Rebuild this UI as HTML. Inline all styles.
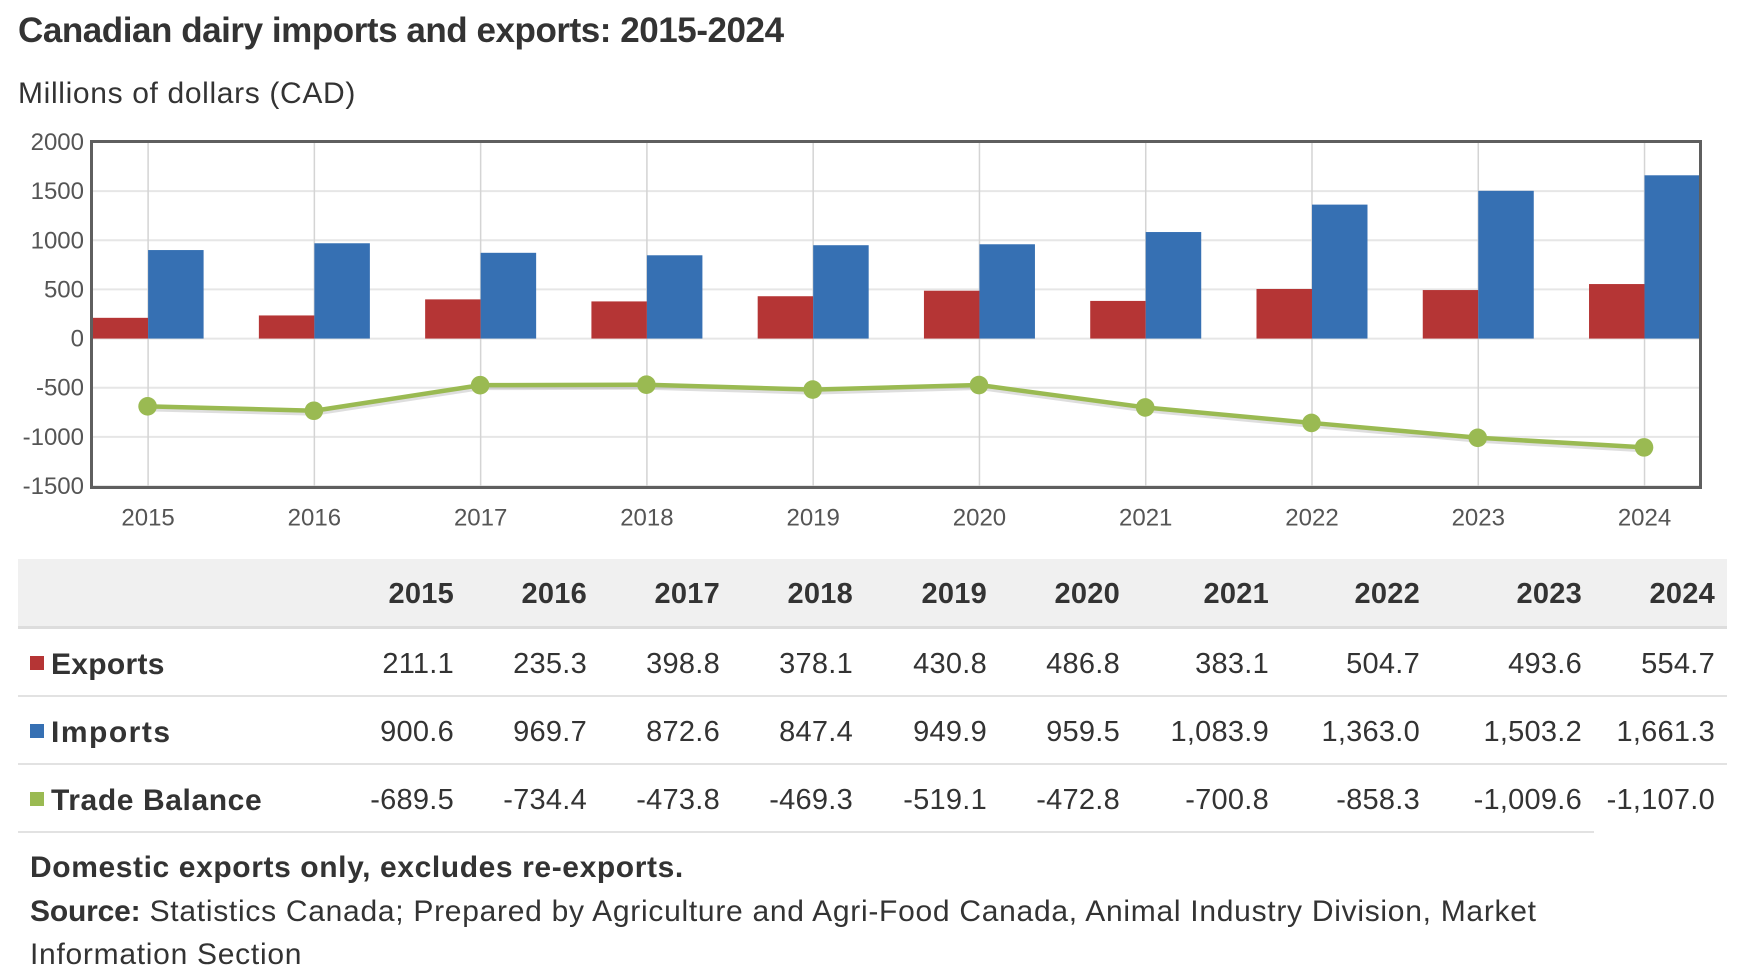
<!DOCTYPE html>
<html lang="en">
<head>
<meta charset="utf-8">
<title>Canadian dairy imports and exports: 2015-2024</title>
<style>
html,body{margin:0;padding:0;background:#fff;}
body{width:1752px;height:972px;overflow:hidden;position:relative;font-family:"Liberation Sans",Arial,sans-serif;color:#333;}
#chart-title{position:absolute;left:18px;top:10px;margin:0;font-size:35px;line-height:42px;font-weight:bold;color:#333;white-space:nowrap;letter-spacing:-.45px;}
#chart-subtitle{position:absolute;left:18px;top:76px;font-size:30px;line-height:36px;color:#333;white-space:nowrap;letter-spacing:.65px;}
#chart{position:absolute;left:0;top:0;}
#data-table{position:absolute;left:18px;top:559px;width:1709px;border-collapse:collapse;table-layout:fixed;font-size:29px;color:#333;}
#data-table th,#data-table td{padding:0 12px 0 0;text-align:right;white-space:nowrap;font-weight:normal;letter-spacing:.25px;}
#data-table thead th{background:#f0f0f0;border-bottom:3px solid #ddd;font-weight:bold;box-sizing:content-box;padding-top:4px;height:63px;}
#data-table tbody td,#data-table tbody th{border-bottom:2px solid #e2e2e2;height:61px;padding-top:5px;box-sizing:content-box;}
#data-table tbody th{text-align:left;font-weight:bold;font-size:30px;padding-left:12px;padding-right:0;letter-spacing:.6px;}
#data-table tbody tr:last-child td:last-child{border-bottom-color:transparent;}
.swatch{display:inline-block;width:14px;height:14px;margin-right:7px;vertical-align:4px;}
#notes{position:absolute;left:30px;top:846px;width:1600px;font-size:30px;line-height:43.5px;color:#333;letter-spacing:.72px;}
#notes b{font-weight:bold;}
</style>
</head>
<body>
<h1 id="chart-title">Canadian dairy imports and exports: 2015-2024</h1>
<div id="chart-subtitle">Millions of dollars (CAD)</div>
<svg id="chart" width="1752" height="560" viewBox="0 0 1752 560" xmlns="http://www.w3.org/2000/svg"></svg>

<table id="data-table">
<colgroup><col style="width:314px"><col style="width:134px"><col style="width:133px"><col style="width:133px"><col style="width:133px"><col style="width:134px"><col style="width:133px"><col style="width:149px"><col style="width:151px"><col style="width:162px"><col style="width:133px"></colgroup>
<thead><tr><th></th><th>2015</th><th>2016</th><th>2017</th><th>2018</th><th>2019</th><th>2020</th><th>2021</th><th>2022</th><th>2023</th><th>2024</th></tr></thead>
<tbody>
<tr><th style="letter-spacing:.3px"><span class="swatch" style="background:#b53535"></span>Exports</th><td>211.1</td><td>235.3</td><td>398.8</td><td>378.1</td><td>430.8</td><td>486.8</td><td>383.1</td><td>504.7</td><td>493.6</td><td>554.7</td></tr>
<tr><th style="letter-spacing:1.5px"><span class="swatch" style="background:#3670b3"></span>Imports</th><td>900.6</td><td>969.7</td><td>872.6</td><td>847.4</td><td>949.9</td><td>959.5</td><td>1,083.9</td><td>1,363.0</td><td>1,503.2</td><td>1,661.3</td></tr>
<tr><th><span class="swatch" style="background:#9aba52"></span>Trade Balance</th><td>-689.5</td><td>-734.4</td><td>-473.8</td><td>-469.3</td><td>-519.1</td><td>-472.8</td><td>-700.8</td><td>-858.3</td><td>-1,009.6</td><td>-1,107.0</td></tr>
</tbody>
</table>

<div id="notes">
<div><b style="letter-spacing:.6px">Domestic exports only, excludes re-exports.</b></div>
<div><b style="letter-spacing:-.17px">Source:</b> Statistics Canada; Prepared by Agriculture and Agri-Food Canada, Animal Industry Division, Market<br>Information Section</div>
</div>

<script>
var categories = ["2015","2016","2017","2018","2019","2020","2021","2022","2023","2024"];
var exportsValues = [211.1,235.3,398.8,378.1,430.8,486.8,383.1,504.7,493.6,554.7];
var importsValues = [900.6,969.7,872.6,847.4,949.9,959.5,1083.9,1363.0,1503.2,1661.3];
var balanceValues = [-689.5,-734.4,-473.8,-469.3,-519.1,-472.8,-700.8,-858.3,-1009.6,-1107.0];
var yTickValues = [2000,1500,1000,500,0,-500,-1000,-1500];

var NS = "http://www.w3.org/2000/svg";
var svg = document.getElementById("chart");
var frameBox = {left:91.5,right:1700.5,top:141.5,bottom:487.5};
var plot = {left:91.5,right:1700.5,top:142,bottom:486};
var yMax = 2000, yMin = -1500;
var firstCenter = 148.1, band = 166.27, barWidth = 55.5;

function xPos(i){ return firstCenter + band * i; }
function yPos(v){ return plot.top + (yMax - v) / (yMax - yMin) * (plot.bottom - plot.top); }
function make(tag, attrs, parent){
  var el = document.createElementNS(NS, tag);
  for (var k in attrs) el.setAttribute(k, attrs[k]);
  (parent || svg).appendChild(el);
  return el;
}

yTickValues.forEach(function(v){
  var g = make("line",{x1:plot.left,x2:plot.right,y1:yPos(v),y2:yPos(v),stroke:"#e6e6e6","stroke-width":2});
  
  
  var t = make("text",{x:84,y:yPos(v)+8,"text-anchor":"end","font-size":24,fill:"#555","font-family":"Liberation Sans, sans-serif"});
  t.textContent = v;
  
  
});

categories.forEach(function(c,i){
  var g = make("line",{x1:xPos(i),x2:xPos(i),y1:frameBox.top,y2:frameBox.bottom,stroke:"#d4d4d4","stroke-width":1.5});
  
  
  var t = make("text",{x:xPos(i),y:525.5,"text-anchor":"middle","font-size":24,fill:"#555","font-family":"Liberation Sans, sans-serif"});
  t.textContent = c;
  
  
});

categories.forEach(function(c,i){
  var r = make("rect",{x:xPos(i)-barWidth,y:yPos(exportsValues[i]),width:barWidth,height:yPos(0)-yPos(exportsValues[i]),fill:"#b53535"});
  
  
  var b = make("rect",{x:xPos(i),y:yPos(importsValues[i]),width:barWidth,height:yPos(0)-yPos(importsValues[i]),fill:"#3670b3"});
  
  
});

var pts = balanceValues.map(function(v,i){ return xPos(i)+","+yPos(v); }).join(" ");
var shadowPts = balanceValues.map(function(v,i){ return xPos(i)+","+(yPos(v)+2.5); }).join(" ");
var shadow = make("polyline",{points:shadowPts,fill:"none",stroke:"rgba(0,0,0,.13)","stroke-width":5});


var line = make("polyline",{points:pts,fill:"none",stroke:"#9aba52","stroke-width":4.5,"stroke-linejoin":"round"});


balanceValues.forEach(function(v,i){
  var m = make("circle",{cx:xPos(i)-0.5,cy:yPos(v),r:9.3,fill:"#9aba52"});
  
  
});

var frame = make("rect",{x:frameBox.left,y:frameBox.top,width:frameBox.right-frameBox.left,height:frameBox.bottom-frameBox.top,fill:"none",stroke:"#5f5f5f","stroke-width":3});


</script>
</body>
</html>
